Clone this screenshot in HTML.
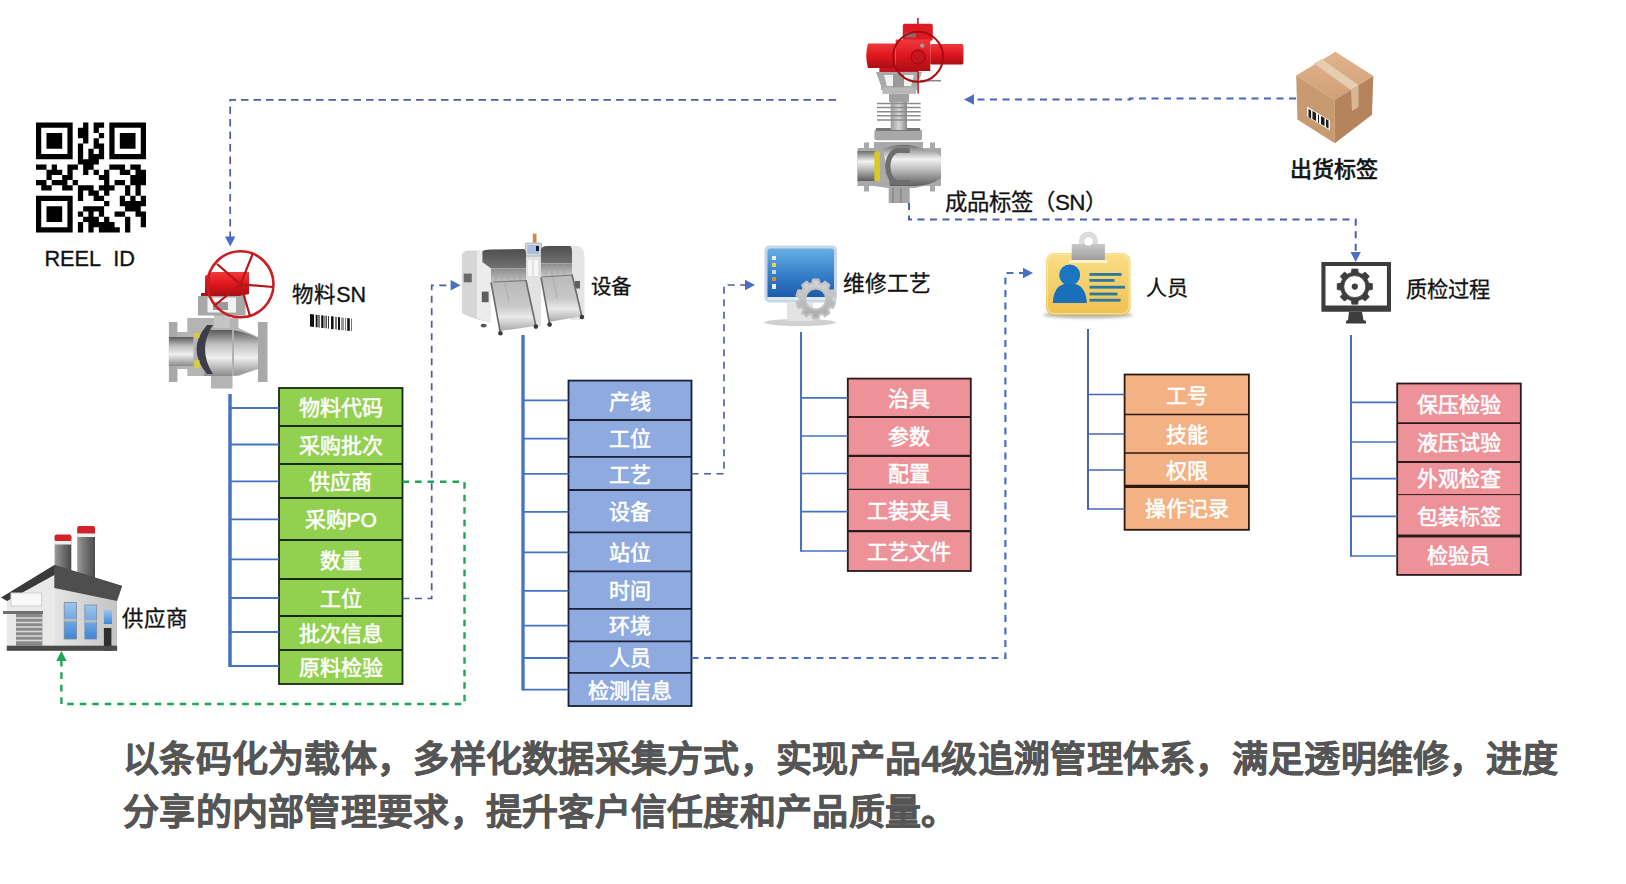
<!DOCTYPE html>
<html lang="zh-CN"><head><meta charset="utf-8">
<style>
html,body{margin:0;padding:0;background:#fff;}
body{width:1626px;height:884px;position:relative;overflow:hidden;font-family:"Liberation Sans",sans-serif;}
.cell{position:absolute;color:#fff;font-size:21px;font-weight:400;-webkit-text-stroke:0.55px #fff;text-align:center;white-space:nowrap;box-sizing:border-box;padding-top:1px;}
.lab{position:absolute;color:#111;-webkit-text-stroke:0.3px #111;font-size:21px;white-space:nowrap;line-height:1;}
#para{position:absolute;left:123px;top:733px;width:1500px;color:#555;font-size:36px;font-weight:bold;line-height:53px;letter-spacing:0.28px;-webkit-text-stroke:0.5px #555;white-space:nowrap;}
svg{position:absolute;left:0;top:0;}
</style></head><body>
<div class="cell" style="left:279.0px;top:388.0px;width:123.5px;height:38.0px;background:#92D050;line-height:38.0px">物料代码</div>
<div class="cell" style="left:279.0px;top:426.0px;width:123.5px;height:38.0px;background:#92D050;line-height:38.0px">采购批次</div>
<div class="cell" style="left:279.0px;top:464.0px;width:123.5px;height:34.0px;background:#92D050;line-height:34.0px">供应商</div>
<div class="cell" style="left:279.0px;top:498.0px;width:123.5px;height:42.0px;background:#92D050;line-height:42.0px">采购PO</div>
<div class="cell" style="left:279.0px;top:540.0px;width:123.5px;height:39.0px;background:#92D050;line-height:39.0px">数量</div>
<div class="cell" style="left:279.0px;top:579.0px;width:123.5px;height:37.0px;background:#92D050;line-height:37.0px">工位</div>
<div class="cell" style="left:279.0px;top:616.0px;width:123.5px;height:34.0px;background:#92D050;line-height:34.0px">批次信息</div>
<div class="cell" style="left:279.0px;top:650.0px;width:123.5px;height:34.0px;background:#92D050;line-height:34.0px">原料检验</div>
<div class="cell" style="left:568.5px;top:380.6px;width:123.0px;height:39.4px;background:#8EAADF;line-height:39.4px">产线</div>
<div class="cell" style="left:568.5px;top:420.0px;width:123.0px;height:36.8px;background:#8EAADF;line-height:36.8px">工位</div>
<div class="cell" style="left:568.5px;top:456.8px;width:123.0px;height:33.2px;background:#8EAADF;line-height:33.2px">工艺</div>
<div class="cell" style="left:568.5px;top:490.0px;width:123.0px;height:42.4px;background:#8EAADF;line-height:42.4px">设备</div>
<div class="cell" style="left:568.5px;top:532.4px;width:123.0px;height:39.0px;background:#8EAADF;line-height:39.0px">站位</div>
<div class="cell" style="left:568.5px;top:571.4px;width:123.0px;height:37.4px;background:#8EAADF;line-height:37.4px">时间</div>
<div class="cell" style="left:568.5px;top:608.8px;width:123.0px;height:32.6px;background:#8EAADF;line-height:32.6px">环境</div>
<div class="cell" style="left:568.5px;top:641.4px;width:123.0px;height:31.4px;background:#8EAADF;line-height:31.4px">人员</div>
<div class="cell" style="left:568.5px;top:672.8px;width:123.0px;height:33.2px;background:#8EAADF;line-height:33.2px">检测信息</div>
<div class="cell" style="left:847.8px;top:378.6px;width:123.0px;height:38.4px;background:#EE929A;line-height:38.4px">治具</div>
<div class="cell" style="left:847.8px;top:417.0px;width:123.0px;height:38.8px;background:#EE929A;line-height:38.8px">参数</div>
<div class="cell" style="left:847.8px;top:455.8px;width:123.0px;height:33.6px;background:#EE929A;line-height:33.6px">配置</div>
<div class="cell" style="left:847.8px;top:489.4px;width:123.0px;height:41.8px;background:#EE929A;line-height:41.8px">工装夹具</div>
<div class="cell" style="left:847.8px;top:531.2px;width:123.0px;height:39.8px;background:#EE929A;line-height:39.8px">工艺文件</div>
<div class="cell" style="left:1124.6px;top:374.5px;width:124.3px;height:40.1px;background:#F4B183;line-height:40.1px">工号</div>
<div class="cell" style="left:1124.6px;top:414.6px;width:124.3px;height:38.4px;background:#F4B183;line-height:38.4px">技能</div>
<div class="cell" style="left:1124.6px;top:453.0px;width:124.3px;height:33.3px;background:#F4B183;line-height:33.3px">权限</div>
<div class="cell" style="left:1124.6px;top:486.3px;width:124.3px;height:43.5px;background:#F4B183;line-height:43.5px">操作记录</div>
<div class="cell" style="left:1397.2px;top:383.5px;width:123.6px;height:39.7px;background:#EE929A;line-height:39.7px">保压检验</div>
<div class="cell" style="left:1397.2px;top:423.2px;width:123.6px;height:38.8px;background:#EE929A;line-height:38.8px">液压试验</div>
<div class="cell" style="left:1397.2px;top:462.0px;width:123.6px;height:32.6px;background:#EE929A;line-height:32.6px">外观检查</div>
<div class="cell" style="left:1397.2px;top:494.6px;width:123.6px;height:41.4px;background:#EE929A;line-height:41.4px">包装标签</div>
<div class="cell" style="left:1397.2px;top:536.0px;width:123.6px;height:38.9px;background:#EE929A;line-height:38.9px">检验员</div>
<svg width="1626" height="884" viewBox="0 0 1626 884">
<rect x="279" y="388" width="123.5" height="296" fill="none" stroke="#1a2a12" stroke-width="1.8"/>
<line x1="279" y1="426" x2="402.5" y2="426" stroke="#1a2a12" stroke-width="1.8"/>
<line x1="279" y1="464" x2="402.5" y2="464" stroke="#1a2a12" stroke-width="1.8"/>
<line x1="279" y1="498" x2="402.5" y2="498" stroke="#1a2a12" stroke-width="1.8"/>
<line x1="279" y1="540" x2="402.5" y2="540" stroke="#1a2a12" stroke-width="1.8"/>
<line x1="279" y1="579" x2="402.5" y2="579" stroke="#1a2a12" stroke-width="1.8"/>
<line x1="279" y1="616" x2="402.5" y2="616" stroke="#1a2a12" stroke-width="1.8"/>
<line x1="279" y1="650" x2="402.5" y2="650" stroke="#1a2a12" stroke-width="1.8"/>
<rect x="568.5" y="380.6" width="123.0" height="325.4" fill="none" stroke="#1a2038" stroke-width="1.8"/>
<line x1="568.5" y1="420" x2="691.5" y2="420" stroke="#1a2038" stroke-width="1.8"/>
<line x1="568.5" y1="456.8" x2="691.5" y2="456.8" stroke="#1a2038" stroke-width="1.8"/>
<line x1="568.5" y1="490" x2="691.5" y2="490" stroke="#1a2038" stroke-width="1.8"/>
<line x1="568.5" y1="532.4" x2="691.5" y2="532.4" stroke="#1a2038" stroke-width="1.8"/>
<line x1="568.5" y1="571.4" x2="691.5" y2="571.4" stroke="#1a2038" stroke-width="1.8"/>
<line x1="568.5" y1="608.8" x2="691.5" y2="608.8" stroke="#1a2038" stroke-width="1.8"/>
<line x1="568.5" y1="641.4" x2="691.5" y2="641.4" stroke="#1a2038" stroke-width="1.8"/>
<line x1="568.5" y1="672.8" x2="691.5" y2="672.8" stroke="#1a2038" stroke-width="1.8"/>
<rect x="847.8" y="378.6" width="123.0" height="192.39999999999998" fill="none" stroke="#2a1a1a" stroke-width="1.8"/>
<line x1="847.8" y1="417" x2="970.8" y2="417" stroke="#2a1a1a" stroke-width="2.2"/>
<line x1="847.8" y1="455.8" x2="970.8" y2="455.8" stroke="#2a1a1a" stroke-width="2.2"/>
<line x1="847.8" y1="489.4" x2="970.8" y2="489.4" stroke="#2a1a1a" stroke-width="1.2"/>
<line x1="847.8" y1="531.2" x2="970.8" y2="531.2" stroke="#2a1a1a" stroke-width="2.2"/>
<rect x="1124.6" y="374.5" width="124.30000000000018" height="155.29999999999995" fill="none" stroke="#2a1a10" stroke-width="1.8"/>
<line x1="1124.6" y1="414.6" x2="1248.9" y2="414.6" stroke="#2a1a10" stroke-width="1.5"/>
<line x1="1124.6" y1="453" x2="1248.9" y2="453" stroke="#2a1a10" stroke-width="1.5"/>
<line x1="1124.6" y1="486.3" x2="1248.9" y2="486.3" stroke="#2a1a10" stroke-width="3.2"/>
<rect x="1397.2" y="383.5" width="123.59999999999991" height="191.39999999999998" fill="none" stroke="#2a1a1a" stroke-width="1.8"/>
<line x1="1397.2" y1="423.2" x2="1520.8" y2="423.2" stroke="#2a1a1a" stroke-width="1.8"/>
<line x1="1397.2" y1="462" x2="1520.8" y2="462" stroke="#2a1a1a" stroke-width="2.2"/>
<line x1="1397.2" y1="494.6" x2="1520.8" y2="494.6" stroke="#2a1a1a" stroke-width="1.0"/>
<line x1="1397.2" y1="536" x2="1520.8" y2="536" stroke="#2a1a1a" stroke-width="3.0"/>
<line x1="230" y1="394" x2="230" y2="666.9" stroke="#4472C4" stroke-width="3.5"/>
<line x1="230" y1="408" x2="279" y2="408" stroke="#4472C4" stroke-width="1.8"/>
<line x1="230" y1="444.5" x2="279" y2="444.5" stroke="#4472C4" stroke-width="1.8"/>
<line x1="230" y1="481.4" x2="279" y2="481.4" stroke="#4472C4" stroke-width="1.8"/>
<line x1="230" y1="519.4" x2="279" y2="519.4" stroke="#4472C4" stroke-width="1.8"/>
<line x1="230" y1="559.3" x2="279" y2="559.3" stroke="#4472C4" stroke-width="1.8"/>
<line x1="230" y1="598" x2="279" y2="598" stroke="#4472C4" stroke-width="1.8"/>
<line x1="230" y1="632" x2="279" y2="632" stroke="#4472C4" stroke-width="1.8"/>
<line x1="230" y1="666" x2="279" y2="666" stroke="#4472C4" stroke-width="1.8"/>
<line x1="523" y1="335" x2="523" y2="690.6" stroke="#4472C4" stroke-width="3.3"/>
<line x1="523" y1="400.3" x2="568.5" y2="400.3" stroke="#4472C4" stroke-width="1.8"/>
<line x1="523" y1="438.7" x2="568.5" y2="438.7" stroke="#4472C4" stroke-width="1.8"/>
<line x1="523" y1="473.8" x2="568.5" y2="473.8" stroke="#4472C4" stroke-width="1.8"/>
<line x1="523" y1="511.8" x2="568.5" y2="511.8" stroke="#4472C4" stroke-width="1.8"/>
<line x1="523" y1="552.3" x2="568.5" y2="552.3" stroke="#4472C4" stroke-width="1.8"/>
<line x1="523" y1="590.9" x2="568.5" y2="590.9" stroke="#4472C4" stroke-width="1.8"/>
<line x1="523" y1="625.7" x2="568.5" y2="625.7" stroke="#4472C4" stroke-width="1.8"/>
<line x1="523" y1="658" x2="568.5" y2="658" stroke="#4472C4" stroke-width="1.8"/>
<line x1="523" y1="689.7" x2="568.5" y2="689.7" stroke="#4472C4" stroke-width="1.8"/>
<line x1="801" y1="332" x2="801" y2="551.85" stroke="#4472C4" stroke-width="2"/>
<line x1="801" y1="397.8" x2="847.8" y2="397.8" stroke="#4472C4" stroke-width="1.7"/>
<line x1="801" y1="436" x2="847.8" y2="436" stroke="#4472C4" stroke-width="1.7"/>
<line x1="801" y1="473.5" x2="847.8" y2="473.5" stroke="#4472C4" stroke-width="1.7"/>
<line x1="801" y1="511.7" x2="847.8" y2="511.7" stroke="#4472C4" stroke-width="1.7"/>
<line x1="801" y1="551" x2="847.8" y2="551" stroke="#4472C4" stroke-width="1.7"/>
<line x1="1088" y1="329" x2="1088" y2="509.75" stroke="#4a64b0" stroke-width="2"/>
<line x1="1088" y1="394.5" x2="1124.6" y2="394.5" stroke="#4a64b0" stroke-width="1.5"/>
<line x1="1088" y1="434" x2="1124.6" y2="434" stroke="#4a64b0" stroke-width="1.5"/>
<line x1="1088" y1="470" x2="1124.6" y2="470" stroke="#4a64b0" stroke-width="1.5"/>
<line x1="1088" y1="509" x2="1124.6" y2="509" stroke="#4a64b0" stroke-width="1.5"/>
<line x1="1351" y1="335" x2="1351" y2="556.85" stroke="#4472C4" stroke-width="2"/>
<line x1="1351" y1="402.4" x2="1397.2" y2="402.4" stroke="#4472C4" stroke-width="1.7"/>
<line x1="1351" y1="442" x2="1397.2" y2="442" stroke="#4472C4" stroke-width="1.7"/>
<line x1="1351" y1="478.7" x2="1397.2" y2="478.7" stroke="#4472C4" stroke-width="1.7"/>
<line x1="1351" y1="516.3" x2="1397.2" y2="516.3" stroke="#4472C4" stroke-width="1.7"/>
<line x1="1351" y1="556" x2="1397.2" y2="556" stroke="#4472C4" stroke-width="1.7"/>
<path d="M836,99.8 L230.2,99.8 L230.2,238" fill="none" stroke="#4f5c9e" stroke-width="1.7" stroke-dasharray="7.5 5"/>
<polygon points="230.2,246.5 225.0,236.5 235.39999999999998,236.5" fill="#4a6cc8"/>
<path d="M1296,98.5 L1130,98.5 L1130,99.5 L974,99.5" fill="none" stroke="#4a66b8" stroke-width="2" stroke-dasharray="7 5.5"/>
<polygon points="964,99.5 974,94.3 974,104.7" fill="#4A6FC3"/>
<path d="M909,203 L909,219.5 L1355.7,219.5 L1355.7,252" fill="none" stroke="#4a62b0" stroke-width="2" stroke-dasharray="7 5.5"/>
<polygon points="1355.7,262 1350.5,252 1360.9,252" fill="#4A6FC3"/>
<path d="M402.5,598.5 L431.7,598.5 L431.7,285.3 L451,285.3" fill="none" stroke="#4c5c9c" stroke-width="1.7" stroke-dasharray="7 5.5"/>
<polygon points="460.6,285.3 450.6,280.1 450.6,290.5" fill="#4A6FC3"/>
<path d="M691.5,473.8 L724,473.8 L724,285 L745,285" fill="none" stroke="#4c5c9c" stroke-width="1.6" stroke-dasharray="7 5.5"/>
<polygon points="755,285 745,279.8 745,290.2" fill="#4A6FC3"/>
<path d="M691.5,658 L1005.4,658 L1005.4,273 L1023,273" fill="none" stroke="#4A6FC3" stroke-width="2.2" stroke-dasharray="7 5.5"/>
<polygon points="1033,273 1023,267.8 1023,278.2" fill="#4A6FC3"/>
<path d="M402.5,481.7 L464.5,481.7 L464.5,704 L61.4,704 L61.4,661" fill="none" stroke="#21A35A" stroke-width="2.4" stroke-dasharray="6.6 5.9"/>
<polygon points="61.4,651 56.199999999999996,661 66.6,661" fill="#21A35A"/>
<defs>
<linearGradient id="gPipe" x1="0" y1="0" x2="0" y2="1">
 <stop offset="0" stop-color="#6e6e6e"/><stop offset="0.35" stop-color="#f2f2f2"/><stop offset="0.6" stop-color="#bdbdbd"/><stop offset="1" stop-color="#5e5e5e"/></linearGradient>
<linearGradient id="gMetal" x1="0" y1="0" x2="1" y2="0">
 <stop offset="0" stop-color="#9a9a9a"/><stop offset="0.5" stop-color="#d6d6d6"/><stop offset="1" stop-color="#8a8a8a"/></linearGradient>
<linearGradient id="gRed" x1="0" y1="0" x2="0" y2="1">
 <stop offset="0" stop-color="#ee3a3a"/><stop offset="0.5" stop-color="#e0161e"/><stop offset="1" stop-color="#a80f14"/></linearGradient>
<linearGradient id="gScreen" x1="0" y1="0" x2="0" y2="1">
 <stop offset="0" stop-color="#67aee6"/><stop offset="0.6" stop-color="#2f78c4"/><stop offset="1" stop-color="#1a57a8"/></linearGradient>
<linearGradient id="gCard" x1="0" y1="0" x2="0" y2="1">
 <stop offset="0" stop-color="#f9df86"/><stop offset="1" stop-color="#eec052"/></linearGradient>
<linearGradient id="gClip" x1="0" y1="0" x2="0" y2="1">
 <stop offset="0" stop-color="#c8c8c8"/><stop offset="1" stop-color="#9c9c9c"/></linearGradient>
<linearGradient id="gChim" x1="0" y1="0" x2="1" y2="0">
 <stop offset="0" stop-color="#9b9b9b"/><stop offset="0.4" stop-color="#777"/><stop offset="1" stop-color="#4a4a4a"/></linearGradient>
<linearGradient id="gWall" x1="0" y1="0" x2="1" y2="0">
 <stop offset="0" stop-color="#e4e4e4"/><stop offset="1" stop-color="#c4c4c4"/></linearGradient>
<linearGradient id="gWin" x1="0" y1="0" x2="0" y2="1">
 <stop offset="0" stop-color="#9cc7ef"/><stop offset="1" stop-color="#3f86d6"/></linearGradient>
<linearGradient id="gBoxTop" x1="0" y1="0" x2="0" y2="1">
 <stop offset="0" stop-color="#e2b48e"/><stop offset="1" stop-color="#cf9f78"/></linearGradient>
<radialGradient id="gShadow" cx="0.5" cy="0.5" r="0.5">
 <stop offset="0" stop-color="#9a9a9a" stop-opacity="0.7"/><stop offset="1" stop-color="#bbb" stop-opacity="0"/></radialGradient>
</defs>
<path fill="#000" d="M36.00,122.50H72.67V127.74H36.00ZM83.14,122.50H88.38V127.74H83.14ZM93.62,122.50H104.10V127.74H93.62ZM109.33,122.50H146.00V127.74H109.33ZM36.00,127.74H41.24V132.98H36.00ZM67.43,127.74H72.67V132.98H67.43ZM77.90,127.74H88.38V132.98H77.90ZM93.62,127.74H98.86V132.98H93.62ZM109.33,127.74H114.57V132.98H109.33ZM140.76,127.74H146.00V132.98H140.76ZM36.00,132.98H41.24V138.21H36.00ZM46.48,132.98H62.19V138.21H46.48ZM67.43,132.98H72.67V138.21H67.43ZM77.90,132.98H88.38V138.21H77.90ZM98.86,132.98H104.10V138.21H98.86ZM109.33,132.98H114.57V138.21H109.33ZM119.81,132.98H135.52V138.21H119.81ZM140.76,132.98H146.00V138.21H140.76ZM36.00,138.21H41.24V143.45H36.00ZM46.48,138.21H62.19V143.45H46.48ZM67.43,138.21H72.67V143.45H67.43ZM83.14,138.21H88.38V143.45H83.14ZM93.62,138.21H98.86V143.45H93.62ZM109.33,138.21H114.57V143.45H109.33ZM119.81,138.21H135.52V143.45H119.81ZM140.76,138.21H146.00V143.45H140.76ZM36.00,143.45H41.24V148.69H36.00ZM46.48,143.45H62.19V148.69H46.48ZM67.43,143.45H72.67V148.69H67.43ZM77.90,143.45H83.14V148.69H77.90ZM93.62,143.45H104.10V148.69H93.62ZM109.33,143.45H114.57V148.69H109.33ZM119.81,143.45H135.52V148.69H119.81ZM140.76,143.45H146.00V148.69H140.76ZM36.00,148.69H41.24V153.93H36.00ZM67.43,148.69H72.67V153.93H67.43ZM77.90,148.69H83.14V153.93H77.90ZM88.38,148.69H93.62V153.93H88.38ZM98.86,148.69H104.10V153.93H98.86ZM109.33,148.69H114.57V153.93H109.33ZM140.76,148.69H146.00V153.93H140.76ZM36.00,153.93H72.67V159.17H36.00ZM77.90,153.93H83.14V159.17H77.90ZM88.38,153.93H104.10V159.17H88.38ZM109.33,153.93H146.00V159.17H109.33ZM77.90,159.17H98.86V164.40H77.90ZM36.00,164.40H46.48V169.64H36.00ZM51.71,164.40H56.95V169.64H51.71ZM67.43,164.40H77.90V169.64H67.43ZM83.14,164.40H93.62V169.64H83.14ZM109.33,164.40H125.05V169.64H109.33ZM130.29,164.40H140.76V169.64H130.29ZM46.48,169.64H62.19V174.88H46.48ZM67.43,169.64H72.67V174.88H67.43ZM83.14,169.64H88.38V174.88H83.14ZM93.62,169.64H98.86V174.88H93.62ZM104.10,169.64H109.33V174.88H104.10ZM119.81,169.64H130.29V174.88H119.81ZM135.52,169.64H146.00V174.88H135.52ZM46.48,174.88H51.71V180.12H46.48ZM62.19,174.88H72.67V180.12H62.19ZM98.86,174.88H109.33V180.12H98.86ZM130.29,174.88H146.00V180.12H130.29ZM36.00,180.12H46.48V185.36H36.00ZM51.71,180.12H67.43V185.36H51.71ZM72.67,180.12H77.90V185.36H72.67ZM104.10,180.12H109.33V185.36H104.10ZM114.57,180.12H125.05V185.36H114.57ZM130.29,180.12H146.00V185.36H130.29ZM41.24,185.36H51.71V190.60H41.24ZM62.19,185.36H72.67V190.60H62.19ZM77.90,185.36H93.62V190.60H77.90ZM98.86,185.36H114.57V190.60H98.86ZM125.05,185.36H130.29V190.60H125.05ZM135.52,185.36H140.76V190.60H135.52ZM77.90,190.60H83.14V195.83H77.90ZM88.38,190.60H98.86V195.83H88.38ZM104.10,190.60H109.33V195.83H104.10ZM125.05,190.60H130.29V195.83H125.05ZM135.52,190.60H140.76V195.83H135.52ZM36.00,195.83H72.67V201.07H36.00ZM77.90,195.83H83.14V201.07H77.90ZM93.62,195.83H104.10V201.07H93.62ZM119.81,195.83H125.05V201.07H119.81ZM130.29,195.83H135.52V201.07H130.29ZM140.76,195.83H146.00V201.07H140.76ZM36.00,201.07H41.24V206.31H36.00ZM67.43,201.07H72.67V206.31H67.43ZM104.10,201.07H109.33V206.31H104.10ZM119.81,201.07H146.00V206.31H119.81ZM36.00,206.31H41.24V211.55H36.00ZM46.48,206.31H62.19V211.55H46.48ZM67.43,206.31H72.67V211.55H67.43ZM83.14,206.31H104.10V211.55H83.14ZM125.05,206.31H140.76V211.55H125.05ZM36.00,211.55H41.24V216.79H36.00ZM46.48,211.55H62.19V216.79H46.48ZM67.43,211.55H72.67V216.79H67.43ZM77.90,211.55H83.14V216.79H77.90ZM88.38,211.55H93.62V216.79H88.38ZM98.86,211.55H104.10V216.79H98.86ZM114.57,211.55H125.05V216.79H114.57ZM135.52,211.55H146.00V216.79H135.52ZM36.00,216.79H41.24V222.02H36.00ZM46.48,216.79H62.19V222.02H46.48ZM67.43,216.79H72.67V222.02H67.43ZM83.14,216.79H98.86V222.02H83.14ZM104.10,216.79H109.33V222.02H104.10ZM125.05,216.79H130.29V222.02H125.05ZM140.76,216.79H146.00V222.02H140.76ZM36.00,222.02H41.24V227.26H36.00ZM67.43,222.02H72.67V227.26H67.43ZM77.90,222.02H83.14V227.26H77.90ZM88.38,222.02H114.57V227.26H88.38ZM125.05,222.02H130.29V227.26H125.05ZM140.76,222.02H146.00V227.26H140.76ZM36.00,227.26H72.67V232.50H36.00ZM77.90,227.26H83.14V232.50H77.90ZM88.38,227.26H93.62V232.50H88.38ZM98.86,227.26H119.81V232.50H98.86ZM125.05,227.26H130.29V232.50H125.05Z"/>
<g><polygon points="310,314.00 314,314.44 314,327.04 310,326.60" fill="#111"/><polygon points="315.7,314.63 317,314.77 317,327.37 315.7,327.23" fill="#111"/><polygon points="317,314.77 320,315.10 320,327.70 317,327.37" fill="#7a7a7a"/><polygon points="321.2,315.23 323,315.43 323,328.03 321.2,327.83" fill="#111"/><polygon points="323,315.43 325.8,315.74 325.8,328.34 323,328.03" fill="#888"/><polygon points="326,315.76 327,315.87 327,328.47 326,328.36" fill="#555"/><polygon points="328,315.98 329,316.09 329,328.69 328,328.58" fill="#333"/><polygon points="331,316.31 333.6,316.60 333.6,329.20 331,328.91" fill="#111"/><polygon points="335,316.75 337,316.97 337,329.57 335,329.35" fill="#777"/><polygon points="338,317.08 340,317.30 340,329.90 338,329.68" fill="#111"/><polygon points="341,317.41 344,317.74 344,330.34 341,330.01" fill="#999"/><polygon points="345,317.85 346,317.96 346,330.56 345,330.45" fill="#777"/><polygon points="347.2,318.09 349.8,318.38 349.8,330.98 347.2,330.69" fill="#111"/><polygon points="351,318.51 352,318.62 352,331.22 351,331.11" fill="#777"/></g>
<g>
 <defs>
  <linearGradient id="gBore" x1="0" y1="0" x2="0" y2="1"><stop offset="0" stop-color="#5a5a5a"/><stop offset="0.3" stop-color="#bdbdbd"/><stop offset="0.6" stop-color="#efefef"/><stop offset="1" stop-color="#8a8a8a"/></linearGradient>
 </defs>
 <!-- flanges -->
 <rect x="168.9" y="322" width="8.5" height="60" fill="#a9a9a9"/>
 <rect x="258" y="322" width="9.5" height="60" fill="#a9a9a9"/>
 <!-- body -->
 <path d="M177,332 L187.3,332 L187.3,318 L214,318 L214,313 L230,313 L230,318 L238.4,318 L238.4,328 L258,337 L258,369 L238.4,376 L232.5,376 L232.5,388.6 L211,388.6 L211,376 L187.3,376 L187.3,369 L177,369 Z" fill="#b4b4b4"/>
 <rect x="214" y="313" width="16" height="15" fill="#c4c4c4"/>
 <rect x="168.9" y="337" width="24.4" height="29" fill="url(#gBore)"/>
 <path d="M204,330 L232,330 Q246,332 258,338 L258,368 Q246,373 232,376 L204,376 Z" fill="url(#gBore)"/>
 <path d="M207,325 Q186,349 207,374 L213,374 Q197,349 213,325 Z" fill="#3e3e4a"/>
 <rect x="232" y="330" width="2" height="46" fill="#b0b0b0"/>
 <rect x="194.5" y="333" width="5" height="5" fill="#d8d030"/>
 <rect x="194.5" y="360" width="5" height="8" fill="#d8d030"/>
 <!-- bonnet -->
 <rect x="198" y="296" width="47.5" height="19.5" fill="#a8a8a8"/>
 <rect x="207.5" y="297.5" width="28.5" height="15" fill="#f2f2f2"/>
 <rect x="213" y="302" width="15" height="8" fill="#9a9a9a"/>
 <!-- gearbox -->
 <path d="M205,296 L205,276 L212,272 L249,272 L249,294 L240,296 Z" fill="url(#gRed)"/>
 <rect x="201" y="293" width="12" height="3" fill="#b0101a"/>
 <!-- handwheel -->
 <circle cx="240.5" cy="284.3" r="33" fill="none" stroke="#cc1b22" stroke-width="2.6"/>
 <g stroke="#b5161c" stroke-width="2.2">
  <line x1="240.5" y1="284.3" x2="253" y2="253"/>
  <line x1="240.5" y1="284.3" x2="217" y2="264"/>
  <line x1="240.5" y1="284.3" x2="273" y2="287"/>
  <line x1="240.5" y1="284.3" x2="250" y2="316"/>
  <line x1="240.5" y1="284.3" x2="214" y2="306"/>
 </g>
</g>
<g>
 <defs>
  <linearGradient id="gCover" x1="0" y1="0" x2="0" y2="1"><stop offset="0" stop-color="#4f4f4f"/><stop offset="1" stop-color="#727272"/></linearGradient>
  <linearGradient id="gBank" x1="0" y1="0" x2="0" y2="1"><stop offset="0" stop-color="#8a8a8a"/><stop offset="1" stop-color="#c6c6c6"/></linearGradient>
  <linearGradient id="gCart" x1="0" y1="0" x2="0" y2="1"><stop offset="0" stop-color="#b9b9b9"/><stop offset="0.5" stop-color="#c8c8c8"/><stop offset="0.72" stop-color="#e9e9e9"/><stop offset="1" stop-color="#a9a9a9"/></linearGradient>
 </defs>
 <rect x="532.8" y="233.7" width="3.7" height="9" fill="#c98a4a"/>
 <!-- center column -->
 <rect x="526" y="256" width="15" height="70" fill="#e2e2e2"/>
 <rect x="528" y="260" width="4" height="16" fill="#f6f6f6"/><rect x="534" y="260" width="4" height="16" fill="#f6f6f6"/>
 <rect x="525.3" y="243" width="16.2" height="13" rx="1" fill="#d6d9de" stroke="#a9a9a9" stroke-width="0.8"/>
 <rect x="527.3" y="245" width="12" height="9" fill="#a9bedc"/>
 <rect x="536" y="246" width="3" height="5" fill="#1a1a2a"/>
 <!-- left end cap -->
 <path d="M461.8,256 Q462,250.5 470,250.5 L486,250.5 L491,252 L491,323.3 L470,317 L461.8,313 Z" fill="#d6d6d6"/>
 <path d="M477,250.5 L486,250.5 Q491,251 491,256 L491,323.3 L477,318 Z" fill="#ececec"/>
 <rect x="463.7" y="273.6" width="8.1" height="8.7" fill="#6a6a6a"/>
 <rect x="481.8" y="291.6" width="6.8" height="10.6" fill="#5e5e5e"/>
 <ellipse cx="483.6" cy="325.6" rx="3" ry="1.8" fill="#555"/>
 <!-- left cover & bank -->
 <path d="M482.4,251.5 Q484,249.5 490,249.5 L524,249 Q526,250 526,254 L526,268.6 L491,268.6 L482.4,262 Z" fill="url(#gCover)"/>
 <rect x="491" y="268.6" width="35" height="13.7" fill="url(#gBank)"/>
 <g stroke="#a0a0a0" stroke-width="0.6"><line x1="496" y1="269" x2="496" y2="282"/><line x1="502" y1="269" x2="502" y2="282"/><line x1="508" y1="269" x2="508" y2="282"/><line x1="514" y1="269" x2="514" y2="282"/><line x1="520" y1="269" x2="520" y2="282"/></g>
 <!-- left cart -->
 <path d="M491,282.3 L526,281 L535.9,326 L500,331 Z" fill="url(#gCart)"/>
 <line x1="505" y1="282" x2="509" y2="303" stroke="#a8a8a8" stroke-width="0.8"/>
 <line x1="491" y1="282.3" x2="500.4" y2="333" stroke="#6a6a6a" stroke-width="1.6"/>
 <line x1="526" y1="280.5" x2="535.9" y2="326" stroke="#6a6a6a" stroke-width="1.6"/>
 <line x1="493" y1="282" x2="527" y2="280.5" stroke="#777" stroke-width="1.2"/>
 <circle cx="500.4" cy="333.3" r="2.3" fill="#3a3a3a"/>
 <circle cx="535.9" cy="326.6" r="2.3" fill="#3a3a3a"/>
 <!-- right end cap -->
 <path d="M567,246 L578,246 Q584.4,247 584.4,256 L584.4,319.6 L572,320 L567,318 Z" fill="#e4e4e4"/>
 <!-- right cover & bank -->
 <path d="M540.9,250 Q541.5,246 547,246 L570,246 Q572,247 572,252 L572,263.6 L540.9,263.6 Z" fill="url(#gCover)"/>
 <rect x="540.9" y="263.6" width="31.1" height="12.4" fill="url(#gBank)"/>
 <g stroke="#a0a0a0" stroke-width="0.6"><line x1="546" y1="264" x2="546" y2="276"/><line x1="552" y1="264" x2="552" y2="276"/><line x1="558" y1="264" x2="558" y2="276"/><line x1="564" y1="264" x2="564" y2="276"/></g>
 <rect x="575" y="281" width="5" height="7.5" fill="#5e5e5e"/>
 <!-- right cart -->
 <path d="M541,276.5 L572,275 L581.9,316 L549,322 Z" fill="url(#gCart)"/>
 <line x1="553" y1="277" x2="557" y2="298" stroke="#a8a8a8" stroke-width="0.8"/>
 <line x1="541" y1="277.5" x2="549.6" y2="324" stroke="#6a6a6a" stroke-width="1.6"/>
 <line x1="572" y1="274.5" x2="581.9" y2="316.5" stroke="#6a6a6a" stroke-width="1.6"/>
 <line x1="541" y1="277" x2="573" y2="275" stroke="#777" stroke-width="1.2"/>
 <circle cx="549.6" cy="324.6" r="2.3" fill="#3a3a3a"/>
 <circle cx="581.9" cy="317" r="2.3" fill="#3a3a3a"/>
</g>
<g>
 <defs><linearGradient id="gGear" x1="0" y1="0" x2="0" y2="1"><stop offset="0" stop-color="#d6d6d6"/><stop offset="1" stop-color="#a9a9a9"/></linearGradient></defs>
 <ellipse cx="800" cy="322.5" rx="36" ry="3.5" fill="#d0d0d0"/>
 <rect x="787" y="303" width="26" height="18" fill="#e3e3e3"/>
 <rect x="764.5" y="245.5" width="72.5" height="57" rx="5" fill="#c5d6e6"/>
 <rect x="767.5" y="248.5" width="66.5" height="51" rx="3" fill="url(#gScreen)"/>
 <rect x="767.5" y="297" width="66.5" height="3" fill="#dfe8f0"/>
 <rect x="772" y="256" width="4" height="4" fill="#e9e9e9"/>
 <rect x="772" y="263" width="4" height="4" fill="#e8d25a"/>
 <rect x="772" y="270" width="4" height="4" fill="#b8dcf2"/>
 <rect x="772" y="277" width="4" height="4" fill="#e2873a"/>
 <rect x="772" y="284" width="4" height="5" fill="#e9e9e9"/>
 <path d="M810.86,283.78 L812.26,283.40 L813.03,279.70 L818.57,279.70 L819.34,283.40 L820.74,283.78 L822.11,284.30 L824.90,281.75 L829.39,285.02 L827.83,288.45 L828.74,289.60 L829.55,290.82 L833.30,290.40 L835.01,295.67 L831.73,297.54 L831.80,299.00 L831.73,300.46 L835.01,302.33 L833.30,307.60 L829.55,307.18 L828.74,308.40 L827.83,309.55 L829.39,312.98 L824.90,316.25 L822.11,313.70 L820.74,314.22 L819.34,314.60 L818.57,318.30 L813.03,318.30 L812.26,314.60 L810.86,314.22 L809.49,313.70 L806.70,316.25 L802.21,312.98 L803.77,309.55 L802.86,308.40 L802.05,307.18 L798.30,307.60 L796.59,302.33 L799.87,300.46 L799.80,299.00 L799.87,297.54 L796.59,295.67 L798.30,290.40 L802.05,290.82 L802.86,289.60 L803.77,288.45 L802.21,285.02 L806.70,281.75 L809.49,284.30 Z M826.3,299 A10.5,10.5 0 1 0 805.3,299 A10.5,10.5 0 1 0 826.3,299 Z" fill="url(#gGear)" fill-rule="evenodd" stroke="#c2c2c2" stroke-width="2.2" stroke-linejoin="round"/>
</g>
<g>
 <defs><filter id="fBlur" x="-20%" y="-100%" width="140%" height="300%"><feGaussianBlur stdDeviation="1.6"/></filter></defs>
 <ellipse cx="1088" cy="315" rx="45" ry="3.2" fill="#9a9a9a" opacity="0.75" filter="url(#fBlur)"/>
 <rect x="1046" y="253" width="84.6" height="62" rx="8" fill="url(#gCard)"/>
 <rect x="1047.5" y="254.5" width="81.6" height="59" rx="7" fill="none" stroke="#fbeaa8" stroke-width="1.2" opacity="0.8"/>
 <path d="M1079,241 A9.5,9.5 0 0 1 1098,241 L1098,244 L1079,244 Z" fill="#dcdcdc"/>
 <rect x="1071.7" y="244" width="33.2" height="16.5" fill="url(#gClip)"/>
 <circle cx="1088.5" cy="241.5" r="4.2" fill="#fff"/>
 <rect x="1069.5" y="260" width="38" height="3" fill="#fdf3cf"/>
 <circle cx="1069.7" cy="275" r="10.5" fill="#1a76c2"/>
 <path d="M1052.8,303 Q1053.5,287 1064,284 L1075.5,284 Q1086,287 1086.8,303 Z" fill="#1a70b8"/>
 <g fill="#2a789e">
  <rect x="1089.5" y="273" width="32" height="2.8"/>
  <rect x="1089.5" y="279" width="25" height="2.8"/>
  <rect x="1089.5" y="285.8" width="35.5" height="2.8"/>
  <rect x="1089.5" y="292.6" width="28" height="2.8"/>
  <rect x="1089.5" y="298.8" width="31" height="2.8"/>
 </g>
</g>
<g>
 <path d="M1321.4,262 L1391,262 L1391,311.7 L1321.4,311.7 Z M1325.5,266 L1325.5,305.5 L1386.9,305.5 L1386.9,266 Z" fill="#3d3d3d" fill-rule="evenodd"/>
 <path d="M1349,311.7 L1362,311.7 L1363.5,320 L1366,321 L1366,323.5 L1346,323.5 L1346,321 L1348,320 Z" fill="#3d3d3d"/>
 <path d="M1349.33,273.39 L1351.31,272.73 L1351.85,269.05 L1357.75,269.05 L1358.29,272.73 L1360.27,273.39 L1362.14,274.33 L1365.13,272.10 L1369.30,276.27 L1367.07,279.26 L1368.01,281.13 L1368.67,283.11 L1372.35,283.65 L1372.35,289.55 L1368.67,290.09 L1368.01,292.07 L1367.07,293.94 L1369.30,296.93 L1365.13,301.10 L1362.14,298.87 L1360.27,299.81 L1358.29,300.47 L1357.75,304.15 L1351.85,304.15 L1351.31,300.47 L1349.33,299.81 L1347.46,298.87 L1344.47,301.10 L1340.30,296.93 L1342.53,293.94 L1341.59,292.07 L1340.93,290.09 L1337.25,289.55 L1337.25,283.65 L1340.93,283.11 L1341.59,281.13 L1342.53,279.26 L1340.30,276.27 L1344.47,272.10 L1347.46,274.33 Z M1365.8,286.6 A11,11 0 1 0 1343.8,286.6 A11,11 0 1 0 1365.8,286.6 Z" fill="#3d3d3d" fill-rule="evenodd" stroke="#3d3d3d" stroke-width="0.8" stroke-linejoin="round"/>
 <circle cx="1354.8" cy="286.6" r="3.1" fill="#3d3d3d"/>
</g>
<g>
 <!-- body -->
 <path d="M857.5,148 L864,148 L864,142.5 L869,142.5 L869,148 L874,148 L874,142 L923,142 L923,148 L930,148 L930,142.5 L935,142.5 L935,148 L941,148 L941,186 L935,186 L935,191.5 L930,191.5 L930,186 L923,186 L915,188 L888,188 L874,186 L869,186 L869,191.5 L864,191.5 L864,186 L857.5,186 Z" fill="#a9a9a9"/>
 <rect x="857.5" y="151" width="18" height="30" fill="url(#gPipe)"/>
 <path d="M883,149 Q905,140 925,150 Q941,152 941,158 L941,178 Q930,186 915,186 L890,186 Z" fill="url(#gPipe)"/>
 <rect x="874.4" y="151.7" width="5.5" height="29.3" fill="#d9cb1e"/>
 <path d="M909.7,148 L896,148 A14,19 0 0 0 896,185 L909.7,185 L909.7,180 L897,180 A9,14 0 0 1 897,153 L909.7,153 Z" fill="#6e6e6e"/>
 <rect x="888.7" y="186" width="21" height="17" fill="#a6a6a6"/>
 <line x1="893" y1="188" x2="893" y2="203" stroke="#777" stroke-width="1"/>
 <line x1="901" y1="188" x2="901" y2="203" stroke="#777" stroke-width="1"/>
 <!-- bonnet -->
 <rect x="874.4" y="129.3" width="47.6" height="11" rx="2" fill="#a8a8a8"/>
 <rect x="876" y="128" width="44" height="3" fill="#777"/>
 <!-- stem & fins -->
 <rect x="890.7" y="94" width="16.3" height="36" fill="url(#gMetal)"/>
 <rect x="889" y="94" width="20" height="8" fill="#a0a0a0"/>
 <g stroke="#8c8c8c" stroke-width="1.5">
  <line x1="877" y1="103.6" x2="920.6" y2="103.6"/><line x1="877" y1="107.6" x2="920.6" y2="107.6"/>
  <line x1="877" y1="111.7" x2="920.6" y2="111.7"/><line x1="877" y1="115.8" x2="920.6" y2="115.8"/>
  <line x1="877" y1="119.9" x2="920.6" y2="119.9"/>
 </g>
 <!-- yoke -->
 <path d="M876,72 L922,72 L917,86 L917,90 L881,90 L881,86 Z" fill="#a9a9a9"/>
 <path d="M884,75 L914,75 L911,86 L887,86 Z" fill="#f2f2f2"/>
 <rect x="893" y="74" width="11" height="14" fill="#9a9a9a"/>
 <rect x="882.5" y="87.4" width="33.5" height="6.5" fill="#b8b8b8"/>
 <line x1="920" y1="80.7" x2="941" y2="80.7" stroke="#8a8a8a" stroke-width="1.6"/>
 <!-- actuator -->
 <line x1="917.9" y1="18" x2="917.9" y2="24.5" stroke="#b5121a" stroke-width="1.5"/>
 <rect x="902.8" y="23.7" width="30" height="17" rx="2" fill="#dd1a22"/>
 <rect x="904.9" y="32.4" width="11" height="5" fill="#8a6a6a"/>
 <rect x="879.4" y="66" width="38.6" height="6" fill="#c8141c"/>
 <path d="M868,43.6 L895.7,43.6 L895.7,68 L868,68 Q864.5,56 868,43.6 Z" fill="url(#gRed)"/>
 <rect x="895.7" y="39.5" width="34.6" height="31.5" fill="url(#gRed)"/>
 <rect x="930.3" y="44.1" width="33.1" height="20.4" rx="1.5" fill="url(#gRed)"/>
 <circle cx="918.1" cy="56.8" r="25" fill="none" stroke="#a80c12" stroke-width="2"/>
 <circle cx="918.1" cy="56.8" r="7" fill="#c8141c" stroke="#8a0a10" stroke-width="1"/>
 <circle cx="922.2" cy="45.6" r="2.2" fill="#9aa0a0"/>
 <line x1="918.1" y1="56.8" x2="918.1" y2="93.5" stroke="#b5121a" stroke-width="1.5"/>
</g>
<g>
 <polygon points="1335.4,51.8 1373.3,76.1 1334.8,99.7 1296.2,75.5" fill="url(#gBoxTop)"/>
 <polygon points="1296.2,75.5 1334.8,99.7 1334.8,143.3 1297.4,119.6" fill="#c89a72"/>
 <polygon points="1334.8,99.7 1373.3,76.1 1372,114.7 1334.8,143.3" fill="#b5845c"/>
 <polygon points="1314,63.5 1321.5,59 1358.5,85 1351,90" fill="#e6cdb0"/>
 <polygon points="1351,90 1358.5,85 1358.5,107 1352,111" fill="#d8b894"/>
 <polygon points="1307,106.5 1330,120.5 1330,130.5 1307,116.5" fill="#f4f0ea"/>
 <g fill="#1e1e1e">
  <polygon points="1308.5,109 1311,110.5 1311,118.5 1308.5,117"/>
  <polygon points="1312.5,111 1316,113 1316,121 1312.5,119"/>
  <polygon points="1318,114.5 1319,115 1319,123 1318,122.5"/>
  <polygon points="1321,116 1324.5,118 1324.5,126 1321,124"/>
  <polygon points="1326,119 1328.5,120.5 1328.5,128.5 1326,127"/>
 </g>
</g>
<g>
 <!-- chimneys -->
 <rect x="54.6" y="536" width="16.7" height="34" fill="url(#gChim)"/>
 <rect x="54.6" y="534.5" width="16.7" height="6.5" rx="2" fill="#d2232a"/>
 <rect x="54.6" y="541" width="16.7" height="3.5" fill="#eeeeee"/>
 <rect x="77.2" y="528" width="17.8" height="50" fill="url(#gChim)"/>
 <rect x="77.2" y="526" width="17.8" height="7.5" rx="2" fill="#d2232a"/>
 <rect x="77.2" y="533.5" width="17.8" height="3.5" fill="#eeeeee"/>
 <!-- walls -->
 <polygon points="6.8,600 54.3,574 54.3,650.8 6.8,650.8" fill="#e9e9e9"/>
 <polygon points="54.3,584 117.1,597 117.1,650.8 54.3,650.8" fill="url(#gWall)"/>
 <!-- roof -->
 <polygon points="1,597.5 54.3,565 122.2,586 117,588 54.3,575 7,601" fill="#3a3a3a"/>
 <polygon points="54.3,565 122.2,586 117.1,601 54.3,588" fill="#4e4e4e"/>
 <!-- sign -->
 <rect x="11" y="593" width="30.6" height="13" fill="#f8f8f8" stroke="#cfcfcf" stroke-width="1"/>
 <rect x="3" y="611" width="40" height="3" fill="#707070"/>
 <!-- garage door -->
 <rect x="16" y="614" width="26.4" height="31.7" fill="#8a8a8a"/>
 <g stroke="#d8d8d8" stroke-width="1.6">
  <line x1="16" y1="618" x2="42.4" y2="618"/><line x1="16" y1="622.5" x2="42.4" y2="622.5"/>
  <line x1="16" y1="627" x2="42.4" y2="627"/><line x1="16" y1="631.5" x2="42.4" y2="631.5"/>
  <line x1="16" y1="636" x2="42.4" y2="636"/><line x1="16" y1="640.5" x2="42.4" y2="640.5"/>
 </g>
 <!-- windows -->
 <rect x="64.2" y="602.4" width="12.2" height="36.6" fill="url(#gWin)" stroke="#7a8a9a" stroke-width="0.8"/>
 <rect x="84.9" y="605" width="11.8" height="34" fill="url(#gWin)" stroke="#7a8a9a" stroke-width="0.8"/>
 <rect x="103.9" y="610" width="8.1" height="14" fill="url(#gWin)"/>
 <rect x="64.2" y="619" width="12.2" height="2.5" fill="#bbb"/>
 <rect x="84.9" y="620" width="11.8" height="2.5" fill="#bbb"/>
 <rect x="103.9" y="628" width="7.5" height="22.8" fill="#2e2e2e"/>
 <!-- base -->
 <rect x="6.8" y="645.7" width="110.3" height="5.1" fill="#4a4a4a"/>
</g>
</svg>
<div class="lab" style="left:44.4px;top:247.8px;font-size:21.75px;font-weight:400;-webkit-text-stroke:0.3px #111">REEL&nbsp;&nbsp;ID</div>
<div class="lab" style="left:292.2px;top:284.6px;font-size:21.5px;font-weight:400;-webkit-text-stroke:0.3px #111">物料SN</div>
<div class="lab" style="left:591.3px;top:276.9px;font-size:20.5px;font-weight:400;-webkit-text-stroke:0.3px #111">设备</div>
<div class="lab" style="left:842.8px;top:272.8px;font-size:21.75px;font-weight:400;-webkit-text-stroke:0.3px #111">维修工艺</div>
<div class="lab" style="left:1145.6px;top:277.0px;font-size:21px;font-weight:400;-webkit-text-stroke:0.3px #111">人员</div>
<div class="lab" style="left:1406.0px;top:279.8px;font-size:21.25px;font-weight:400;-webkit-text-stroke:0.3px #111">质检过程</div>
<div class="lab" style="left:945.0px;top:191.6px;font-size:22.4px;font-weight:400;-webkit-text-stroke:0.3px #111">成品标签（<span style="letter-spacing:-0.6px">SN</span>）</div>
<div class="lab" style="left:1290.2px;top:158.6px;font-size:22px;font-weight:400;-webkit-text-stroke:0.7px #111">出货标签</div>
<div class="lab" style="left:121.5px;top:609.2px;font-size:21.5px;font-weight:400;-webkit-text-stroke:0.3px #111">供应商</div>
<div id="para">以条码化为载体，多样化数据采集方式，实现产品4级追溯管理体系，满足透明维修，进度<br>分享的内部管理要求，提升客户信任度和产品质量。</div>
</body></html>
